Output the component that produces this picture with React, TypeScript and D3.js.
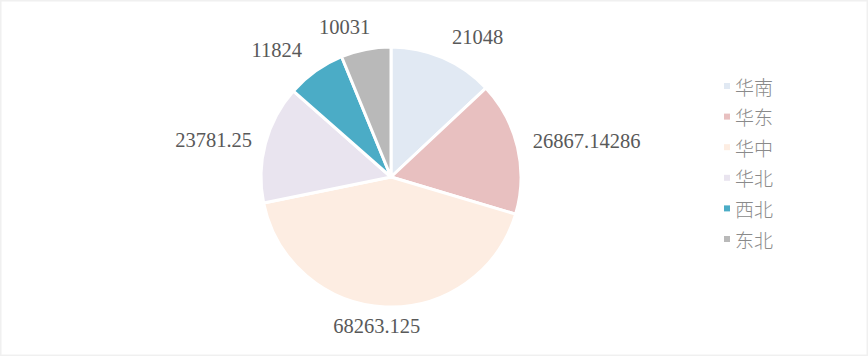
import React, { useEffect } from "react";
import * as d3 from "d3";

const categories = ["华南", "华东", "华中", "华北", "西北", "东北"];
const values = [21048, 26867.14286, 68263.125, 23781.25, 11824, 10031];
const labels = ["21048", "26867.14286", "68263.125", "23781.25", "11824", "10031"];
const colors = ["#E1E9F3", "#E8C0C0", "#FDEDE2", "#E9E4EF", "#4BACC6", "#B9B9B9"];
// label placement tweaks (style, px)
const labelDx = [20, 5, -6, -3, -17, -14];
const labelDy = [0, -1, -3, 2, -3, -1];

const W = 868;
const H = 356;
const cx = 391;
const cy = 177;
const R = 130;

function approxWidth(s: string, fs: number) {
  let w = 0;
  for (const ch of s) w += ch === "." ? 0.25 * fs : 0.5 * fs;
  return w;
}

export default function App() {
  useEffect(() => {
    document.body.style.margin = "0";
  }, []);
  const pie = d3.pie<number>().sort(null).value((d) => d);
  const arcs = pie(values);
  const arc = d3.arc<d3.PieArcDatum<number>>().innerRadius(0).outerRadius(R);
  const fs = 20.5;
  const legendY = d3.scalePoint<string>().domain(categories).range([86, 239]);
  return (
    <svg width={W} height={H} style={{ display: "block" }}>
      <rect x={0.75} y={0.75} width={W - 1.5} height={H - 1.5} fill="#fff" stroke="#f0f0f0" strokeWidth={1.5} />
      <g transform={`translate(${cx},${cy})`}>
        {arcs.map((a, i) => (
          <path key={i} d={arc(a) || ""} fill={colors[i]} stroke="#fff" strokeWidth={3} strokeLinejoin="round" />
        ))}
        {arcs.map((a, i) => {
          const mid = (a.startAngle + a.endAngle) / 2;
          const s = Math.sin(mid);
          const c = Math.cos(mid);
          const rl = R + 12;
          const w = approxWidth(labels[i], fs);
          const h = fs;
          const x = rl * s + (s * w) / 2 + labelDx[i];
          const y = -rl * c - (c * h) / 2 + labelDy[i];
          return (
            <text
              key={i}
              x={x}
              y={y}
              textAnchor="middle"
              dominantBaseline="central"
              fontFamily="'Liberation Serif', 'Times New Roman', serif"
              fontSize={fs}
              fill="#595959"
            >
              {labels[i]}
            </text>
          );
        })}
      </g>
      <g>
        {categories.map((c, i) => (
          <g key={c} transform={`translate(0,${legendY(c)})`}>
            <rect x={724} y={-3} width={6} height={6} fill={colors[i]} />
            <text
              x={735}
              y={0}
              dominantBaseline="central"
              fontFamily="'Noto Sans CJK SC', sans-serif"
              fontWeight={300}
              fontSize={19}
              fill="#8a8a8a"
            >
              {c}
            </text>
          </g>
        ))}
      </g>
    </svg>
  );
}
